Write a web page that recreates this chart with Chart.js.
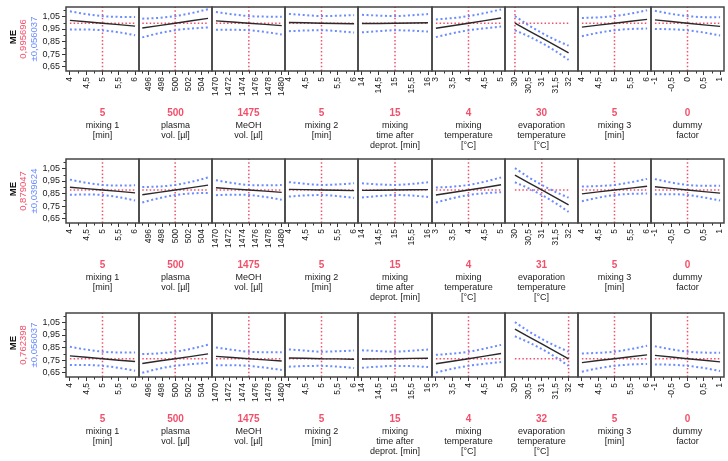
<!DOCTYPE html>
<html><head><meta charset="utf-8">
<script src="https://cdn.jsdelivr.net/npm/chart.js@4.4.0/dist/chart.umd.min.js"></script>
<style>
html,body{margin:0;padding:0;background:#fff;}
body{width:728px;height:461px;overflow:hidden;position:relative;font-family:"Liberation Sans",Arial,sans-serif;}
canvas{position:absolute;}
.lbl{position:absolute;text-align:center;font-size:9px;line-height:10px;color:#222;white-space:nowrap;}
.val{position:absolute;text-align:center;font-size:10px;line-height:10px;font-weight:bold;color:#f2506a;white-space:nowrap;}
.rot{position:absolute;white-space:nowrap;font-size:9.5px;line-height:10px;}
</style></head><body>
<script>
// ---------- DATA ----------
const factorLines = [
  ['mixing 1','[min]'],
  ['plasma','vol. [µl]'],
  ['MeOH','vol. [µl]'],
  ['mixing 2','[min]'],
  ['mixing','time after','deprot. [min]'],
  ['mixing','temperature','[°C]'],
  ['evaporation','temperature','[°C]'],
  ['mixing 3','[min]'],
  ['dummy','factor']
];
const settingsRow1 = [5, 500, 1475, 5, 15, 4, 30, 5, 0];
const settingsRow2 = [5, 500, 1475, 5, 15, 4, 31, 5, 0];
const settingsRow3 = [5, 500, 1475, 5, 15, 4, 32, 5, 0];
const predValues = [0.995696, 0.879047, 0.762398];
const ciValues = [0.056037, 0.039624, 0.056037];

const xPoints = [
  [4, 4.5, 5, 5.5, 6],
  [495, 497.5, 500, 502.5, 505],
  [1470, 1472.5, 1475, 1477.5, 1480],
  [4, 4.5, 5, 5.5, 6],
  [14, 14.5, 15, 15.5, 16],
  [3, 3.5, 4, 4.5, 5],
  [30, 30.5, 31, 31.5, 32],
  [4, 4.5, 5, 5.5, 6],
  [-1, -0.5, 0, 0.5, 1]
];
const xMin = [3.88, 494.5, 1469.4, 3.88, 13.88, 2.88, 29.63, 3.88, -1.12];
const xMax = [6.12, 505.6, 1480.5, 6.12, 16.12, 5.12, 32.35, 6.12, 1.12];
const xMajorTicks = [
  [4, 4.5, 5, 5.5, 6],
  [496, 498, 500, 502, 504],
  [1470, 1472, 1474, 1476, 1478, 1480],
  [4, 4.5, 5, 5.5, 6],
  [14, 14.5, 15, 15.5, 16],
  [3, 3.5, 4, 4.5, 5],
  [30, 30.5, 31, 31.5, 32],
  [4, 4.5, 5, 5.5, 6],
  [-1, -0.5, 0, 0.5, 1]
];
const xMinorTicks = [
  [4.25, 4.75, 5.25, 5.75],
  [495, 497, 499, 501, 503, 505],
  [1471, 1473, 1475, 1477, 1479],
  [4.25, 4.75, 5.25, 5.75],
  [14.25, 14.75, 15.25, 15.75],
  [3.25, 3.75, 4.25, 4.75],
  [30.25, 30.75, 31.25, 31.75],
  [4.25, 4.75, 5.25, 5.75],
  [-0.75, -0.25, 0.25, 0.75]
];
const yTicks = [0.65, 0.75, 0.85, 0.95, 1.05];
const yMinorTicks = [0.70, 0.80, 0.90, 1.00, 1.10];
const yMin = 0.618, yMax = 1.124;

const predRow1 = [
  [1.018, 1.007, 0.996, 0.985, 0.973],
  [0.958, 0.977, 0.996, 1.015, 1.034],
  [1.014, 1.005, 0.996, 0.987, 0.977],
  [1.001, 0.999, 0.996, 0.994, 0.991],
  [0.993, 0.994, 0.996, 0.998, 0.999],
  [0.956, 0.976, 0.996, 1.016, 1.037],
  [0.996, 0.937, 0.879, 0.821, 0.762],
  [0.965, 0.981, 0.996, 1.011, 1.026],
  [1.022, 1.009, 0.996, 0.983, 0.971]
];
const upperRow1 = [
  [1.090, 1.068, 1.052, 1.046, 1.045],
  [1.032, 1.038, 1.052, 1.076, 1.106],
  [1.084, 1.066, 1.052, 1.048, 1.047],
  [1.069, 1.060, 1.052, 1.055, 1.060],
  [1.062, 1.056, 1.052, 1.059, 1.068],
  [1.026, 1.036, 1.052, 1.076, 1.105],
  [1.052, 0.981, 0.919, 0.865, 0.818],
  [1.037, 1.042, 1.052, 1.072, 1.098],
  [1.094, 1.070, 1.052, 1.044, 1.043]
];
const lowerRow1 = [
  [0.946, 0.946, 0.940, 0.924, 0.901],
  [0.884, 0.916, 0.940, 0.954, 0.962],
  [0.944, 0.944, 0.940, 0.926, 0.907],
  [0.933, 0.938, 0.940, 0.933, 0.922],
  [0.924, 0.933, 0.940, 0.937, 0.930],
  [0.886, 0.916, 0.940, 0.956, 0.969],
  [0.940, 0.893, 0.839, 0.777, 0.706],
  [0.893, 0.920, 0.940, 0.950, 0.954],
  [0.950, 0.948, 0.940, 0.922, 0.899]
];

const predRow2 = [
  [0.901, 0.890, 0.879, 0.868, 0.856],
  [0.841, 0.860, 0.879, 0.898, 0.917],
  [0.897, 0.888, 0.879, 0.870, 0.860],
  [0.884, 0.882, 0.879, 0.877, 0.874],
  [0.876, 0.877, 0.879, 0.881, 0.882],
  [0.839, 0.859, 0.879, 0.899, 0.920],
  [0.996, 0.937, 0.879, 0.821, 0.762],
  [0.848, 0.864, 0.879, 0.894, 0.909],
  [0.905, 0.892, 0.879, 0.866, 0.854]
];
const upperRow2 = [
  [0.961, 0.936, 0.919, 0.914, 0.916],
  [0.902, 0.906, 0.919, 0.944, 0.978],
  [0.956, 0.934, 0.919, 0.916, 0.918],
  [0.941, 0.928, 0.919, 0.923, 0.932],
  [0.932, 0.923, 0.919, 0.927, 0.940],
  [0.898, 0.905, 0.919, 0.945, 0.978],
  [1.052, 0.981, 0.919, 0.865, 0.818],
  [0.906, 0.910, 0.919, 0.940, 0.967],
  [0.965, 0.938, 0.919, 0.912, 0.912]
];
const lowerRow2 = [
  [0.841, 0.844, 0.839, 0.822, 0.796],
  [0.780, 0.814, 0.839, 0.852, 0.856],
  [0.838, 0.842, 0.839, 0.824, 0.802],
  [0.827, 0.836, 0.839, 0.831, 0.816],
  [0.820, 0.831, 0.839, 0.835, 0.824],
  [0.780, 0.813, 0.839, 0.853, 0.862],
  [0.940, 0.893, 0.839, 0.777, 0.706],
  [0.790, 0.818, 0.839, 0.848, 0.851],
  [0.845, 0.846, 0.839, 0.820, 0.796]
];

const predRow3 = [
  [0.785, 0.774, 0.762, 0.751, 0.740],
  [0.725, 0.744, 0.762, 0.781, 0.801],
  [0.781, 0.772, 0.762, 0.753, 0.744],
  [0.768, 0.766, 0.762, 0.761, 0.758],
  [0.760, 0.761, 0.762, 0.765, 0.766],
  [0.723, 0.743, 0.762, 0.783, 0.804],
  [0.996, 0.937, 0.879, 0.821, 0.762],
  [0.732, 0.748, 0.762, 0.778, 0.793],
  [0.789, 0.776, 0.762, 0.750, 0.738]
];
const upperRow3 = [
  [0.857, 0.835, 0.818, 0.812, 0.812],
  [0.799, 0.805, 0.818, 0.842, 0.873],
  [0.851, 0.833, 0.818, 0.814, 0.814],
  [0.836, 0.827, 0.818, 0.822, 0.827],
  [0.829, 0.823, 0.818, 0.826, 0.835],
  [0.793, 0.803, 0.818, 0.843, 0.872],
  [1.052, 0.981, 0.919, 0.865, 0.818],
  [0.804, 0.809, 0.818, 0.839, 0.865],
  [0.861, 0.837, 0.818, 0.811, 0.810]
];
const lowerRow3 = [
  [0.713, 0.713, 0.706, 0.690, 0.668],
  [0.651, 0.683, 0.706, 0.720, 0.729],
  [0.711, 0.711, 0.706, 0.692, 0.674],
  [0.700, 0.705, 0.706, 0.700, 0.689],
  [0.691, 0.700, 0.706, 0.704, 0.697],
  [0.653, 0.683, 0.706, 0.723, 0.736],
  [0.940, 0.893, 0.839, 0.777, 0.706],
  [0.660, 0.687, 0.706, 0.717, 0.721],
  [0.717, 0.715, 0.706, 0.689, 0.666]
];

// ---------- LAYOUT / STYLE ----------
const rows = [
  {top: 7,   pred: predRow1, upper: upperRow1, lower: lowerRow1, set: settingsRow1},
  {top: 159, pred: predRow2, upper: upperRow2, lower: lowerRow2, set: settingsRow2},
  {top: 313, pred: predRow3, upper: upperRow3, lower: lowerRow3, set: settingsRow3}
];
const LEFT0 = 65.5, PW = 73.2, PH = 64;
const PAD = 12, PADT = 10, PADB = 4, XH = 34, YW = 36;
const RED = '#f2506a', BLUE = '#6a8cff', FONT = '"Liberation Sans", Arial, sans-serif';

const fmt = v => String(+Number(v).toFixed(3)).replace('.', ',');

const extrasPlugin = {
  id: 'extras',
  afterDraw(chart, args, o) {
    const {ctx, chartArea: a, scales: {x, y}} = chart;
    ctx.save();
    ctx.strokeStyle = '#333'; ctx.lineWidth = 1;
    o.minorX.forEach(v => {
      const px = Math.round(x.getPixelForValue(v)) + 0.5;
      ctx.beginPath(); ctx.moveTo(px, a.bottom); ctx.lineTo(px, a.bottom + 2.5); ctx.stroke();
    });
    if (o.showY) {
      yMinorTicks.forEach(v => {
        const py = Math.round(y.getPixelForValue(v)) + 0.5;
        if (py < a.top || py > a.bottom) return;
        ctx.beginPath(); ctx.moveTo(a.left, py); ctx.lineTo(a.left - 2.5, py); ctx.stroke();
      });
    }
    ctx.strokeStyle = '#444'; ctx.lineWidth = 1.5;
    ctx.strokeRect(a.left, a.top, a.right - a.left, a.bottom - a.top);
    ctx.restore();
  }
};

function addDiv(cls, text, css) {
  const d = document.createElement('div');
  d.className = cls;
  d.innerHTML = text;
  Object.assign(d.style, css);
  document.body.appendChild(d);
  return d;
}

rows.forEach((row, r) => {
  for (let i = 0; i < 9; i++) {
    const L = Math.round(LEFT0 + i * PW);
    const R = Math.round(LEFT0 + (i + 1) * PW);
    const w = R - L;
    const showY = i === 0;
    const cv = document.createElement('canvas');
    const cw = w + 2 * PAD + (showY ? YW : 0);
    const ch = PADT + PH + XH + PADB;
    cv.width = cw; cv.height = ch;
    cv.style.width = cw + 'px'; cv.style.height = ch + 'px';
    cv.style.left = (L - PAD - (showY ? YW : 0)) + 'px';
    cv.style.top = (row.top - PADT) + 'px';
    document.body.appendChild(cv);

    const xs = xPoints[i];
    const mk = arr => xs.map((x, k) => ({x, y: arr[k]}));
    const setX = row.set[i];
    const pv = predValues[r];

    new Chart(cv, {
      type: 'line',
      data: {
        datasets: [
          {data: mk(row.pred[i]), borderColor: '#2a2a2a', borderWidth: 1.4, pointRadius: 0, tension: 0, order: 0},
          {data: mk(row.upper[i]), borderColor: BLUE, borderWidth: 2, borderDash: [2, 2.6], pointRadius: 0, cubicInterpolationMode: 'monotone', order: 1},
          {data: mk(row.lower[i]), borderColor: BLUE, borderWidth: 2, borderDash: [2, 2.6], pointRadius: 0, cubicInterpolationMode: 'monotone', order: 1},
          {data: [{x: xs[0], y: pv}, {x: xs[xs.length - 1], y: pv}], borderColor: RED, borderWidth: 1.5, borderDash: [1.5, 2.2], pointRadius: 0, order: 2},
          {data: [{x: setX, y: yMin}, {x: setX, y: yMax}], borderColor: RED, borderWidth: 1.5, borderDash: [1.5, 2.2], pointRadius: 0, order: 2}
        ]
      },
      options: {
        animation: false, responsive: false, devicePixelRatio: 1,
        events: [],
        layout: {padding: {left: PAD, right: PAD, top: PADT, bottom: PADB}},
        plugins: {
          legend: {display: false}, tooltip: {enabled: false},
          extras: {minorX: xMinorTicks[i], showY}
        },
        scales: {
          x: {
            type: 'linear', min: xMin[i], max: xMax[i],
            afterBuildTicks: s => { s.ticks = xMajorTicks[i].map(v => ({value: v})); },
            afterFit: s => { s.height = XH; },
            ticks: {minRotation: 90, maxRotation: 90, autoSkip: false, padding: 2, color: '#1a1a1a',
                    font: {size: 8.5, family: FONT}, callback: v => fmt(v)},
            grid: {drawOnChartArea: false, drawTicks: true, tickLength: 4, tickColor: '#333', tickWidth: 1},
            border: {display: false}
          },
          y: {
            type: 'linear', display: showY, min: yMin, max: yMax,
            afterBuildTicks: s => { s.ticks = yTicks.map(v => ({value: v})); },
            afterFit: s => { s.width = showY ? YW : 0; },
            ticks: {padding: 2, color: '#1a1a1a', font: {size: 9, family: FONT}, callback: v => fmt(v)},
            grid: {drawOnChartArea: false, drawTicks: true, tickLength: 4, tickColor: '#333', tickWidth: 1},
            border: {display: false}
          }
        }
      },
      plugins: [extrasPlugin]
    });

    // labels under the panel
    const cx = (L + R) / 2;
    addDiv('val', fmt(setX), {left: (cx - 30) + 'px', width: '60px', top: (row.top + 101) + 'px'});
    addDiv('lbl', factorLines[i].join('<br>'), {left: (cx - 40) + 'px', width: '80px', top: (row.top + 113) + 'px'});
  }

  // rotated y-axis titles
  const mid = row.top + PH / 2;
  const mkRot = (text, cx, cy, css) => {
    const d = addDiv('rot', text, css);
    d.style.left = cx + 'px'; d.style.top = cy + 'px';
    d.style.transform = 'translate(-50%,-50%) rotate(-90deg)';
  };
  mkRot('ME', 13, mid - 2, {fontWeight: 'bold', color: '#111', fontSize: '9.5px'});
  mkRot(predValues[r].toFixed(6).replace('.', ','), 23, mid, {color: RED});
  mkRot('±' + ciValues[r].toFixed(6).replace('.', ','), 34, mid, {color: BLUE});
});
</script>
</body></html>
